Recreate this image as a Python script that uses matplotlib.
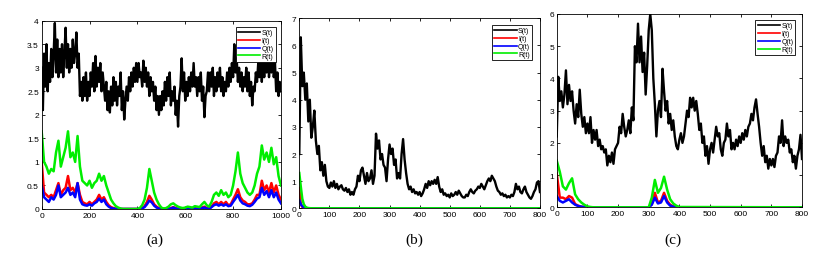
import numpy as np
import matplotlib
matplotlib.use("Agg")
import matplotlib.pyplot as plt

# ---------------- data ----------------
# panel (a): t = 0..1000
t_a_S = list(range(0, 1001, 5))
S_a = [3.0, 2.1, 3.3, 2.6, 3.5, 2.5, 3.1, 2.7, 3.4, 2.8,
       3.3, 3.95, 2.9, 3.6, 2.8, 3.4, 2.9, 3.5, 2.8, 3.3,
       3.85, 3.0, 3.5, 2.9, 3.4, 3.0, 3.6, 3.1, 3.3, 3.75,
       3.0, 3.3, 2.4, 2.7, 2.3, 2.8, 2.4, 2.9, 2.3, 2.7,
       2.4, 2.9, 2.6, 3.1, 2.5, 3.25, 2.6, 3.0, 2.7, 3.1,
       2.5, 2.9, 2.6, 2.3, 2.7, 2.1, 2.5, 2.05, 2.6, 2.2,
       2.8, 2.3, 2.7, 2.2, 2.6, 2.4, 2.9, 2.1, 2.5, 1.9,
       2.3, 2.6, 2.3, 2.8, 2.5, 2.9, 2.6, 3.0, 2.7, 3.1,
       2.7, 3.1, 2.8, 2.9, 2.6, 3.15, 2.7, 3.0, 2.6, 2.9,
       2.4, 2.8, 2.5, 2.7, 2.3, 2.6, 2.1, 2.4, 2.0, 2.4,
       2.1, 2.5, 2.2, 2.7, 2.3, 2.8, 2.4, 2.9, 2.2, 2.5,
       2.3, 2.6, 2.0, 2.3, 1.75, 2.4, 2.6, 3.2, 2.5, 2.9,
       2.3, 2.7, 2.4, 2.8, 2.5, 2.9, 2.6, 3.1, 2.6, 2.8,
       2.4, 2.8, 2.5, 2.9, 2.3, 2.6, 1.95, 2.4, 2.5, 2.9,
       2.5, 2.9, 2.6, 3.0, 2.4, 2.8, 2.5, 2.9, 2.6, 3.0,
       2.5, 2.8, 2.4, 2.7, 2.5, 2.9, 2.6, 3.0, 2.7, 3.1,
       2.8, 3.5, 2.9, 3.2, 2.7, 3.0, 2.6, 2.9, 2.5, 2.8,
       2.6, 3.0, 2.5, 2.9, 2.4, 2.7, 2.2, 2.6, 2.5, 2.9,
       2.7, 3.1, 2.8, 3.3, 2.7, 3.2, 2.8, 3.3, 2.9, 3.4,
       2.8, 3.2, 2.9, 3.5, 2.8, 3.1, 2.5, 2.9, 2.4, 2.7,
       2.5]
t_a = list(range(0, 1001, 10))
R_a = [1.65, 1.0, 0.9, 0.75, 0.85, 0.8, 1.2, 1.45, 0.9, 1.1,
       1.3, 1.65, 1.1, 1.2, 1.0, 1.55, 0.9, 0.6, 0.55, 0.5,
       0.6, 0.45, 0.55, 0.6, 0.75, 0.6, 0.7, 0.5, 0.35, 0.2,
       0.12, 0.06, 0.03, 0.01, 0.0, 0.0, 0.0, 0.0, 0.0, 0.0,
       0.0, 0.02, 0.08, 0.2, 0.45, 0.85, 0.6, 0.35, 0.2, 0.1,
       0.03, 0.01, 0.02, 0.05, 0.1, 0.12, 0.08, 0.05, 0.03, 0.02,
       0.03, 0.05, 0.04, 0.03, 0.06, 0.05, 0.04, 0.1, 0.15, 0.08,
       0.05, 0.15, 0.3, 0.35, 0.28, 0.4, 0.3, 0.35, 0.25, 0.3,
       0.5, 0.8, 1.2, 0.75, 0.55, 0.45, 0.35, 0.3, 0.35, 0.5,
       0.75, 0.9, 1.35, 1.05, 1.2, 1.0, 1.3, 0.95, 1.1, 0.7,
       0.5]
I_a = [1.0, 0.35, 0.3, 0.25, 0.3, 0.25, 0.4, 0.55, 0.3, 0.4,
       0.45, 0.7, 0.4, 0.45, 0.35, 0.55, 0.3, 0.15, 0.12, 0.1,
       0.15, 0.1, 0.15, 0.2, 0.3, 0.2, 0.25, 0.15, 0.08, 0.04,
       0.02, 0.01, 0, 0, 0, 0, 0, 0, 0, 0,
       0, 0, 0.02, 0.06, 0.15, 0.28, 0.2, 0.1, 0.05, 0.02,
       0, 0, 0, 0.01, 0.02, 0.04, 0.02, 0.01, 0, 0,
       0, 0.01, 0.01, 0, 0.02, 0.01, 0.01, 0.03, 0.05, 0.02,
       0.01, 0.05, 0.12, 0.15, 0.1, 0.15, 0.1, 0.15, 0.08, 0.1,
       0.2, 0.3, 0.42, 0.25, 0.18, 0.15, 0.1, 0.1, 0.12, 0.2,
       0.3, 0.3, 0.6, 0.4, 0.5, 0.35, 0.55, 0.35, 0.5, 0.3,
       0.2]
Q_a = [0.5, 0.25, 0.2, 0.15, 0.25, 0.2, 0.3, 0.5, 0.25, 0.3,
       0.35, 0.45, 0.3, 0.35, 0.25, 0.55, 0.2, 0.1, 0.08, 0.07,
       0.1, 0.07, 0.12, 0.15, 0.22, 0.15, 0.2, 0.1, 0.05, 0.02,
       0.01, 0, 0, 0, 0, 0, 0, 0, 0, 0,
       0, 0, 0.01, 0.04, 0.1, 0.18, 0.14, 0.07, 0.03, 0.01,
       0, 0, 0, 0, 0.01, 0.03, 0.01, 0, 0, 0,
       0, 0, 0, 0, 0.01, 0, 0, 0.02, 0.03, 0.01,
       0, 0.04, 0.08, 0.1, 0.07, 0.1, 0.07, 0.1, 0.06, 0.07,
       0.15, 0.22, 0.3, 0.18, 0.12, 0.1, 0.07, 0.06, 0.09, 0.15,
       0.22, 0.25, 0.45, 0.3, 0.38, 0.25, 0.4, 0.25, 0.35, 0.2,
       0.12]

# panel (b): t = 0..800
t_b_S = list(range(0, 801, 5))
S_b = [2.0, 6.3, 4.5, 5.0, 4.0, 4.6, 3.2, 4.0, 2.6, 3.0,
       3.6, 2.5, 2.0, 2.3, 1.4, 1.7, 1.2, 1.6, 1.0, 0.8,
       0.75, 0.95, 0.8, 1.0, 0.75, 0.9, 0.7, 0.8, 0.85, 0.7,
       0.65, 0.75, 0.6, 0.7, 0.5, 0.6, 0.5, 0.7, 0.8, 1.2,
       1.0, 1.4, 1.5, 1.2, 0.9, 1.3, 1.0, 1.1, 1.4, 0.9,
       1.2, 2.75, 2.2, 2.5, 1.8, 2.0, 1.6, 1.5, 1.0, 1.8,
       2.35, 2.0, 2.2, 1.6, 1.8, 1.1, 1.3, 1.1, 2.0, 2.55,
       1.8, 1.3, 0.9, 0.7, 0.8, 0.6, 0.7, 0.55, 0.6, 0.5,
       0.6, 0.45, 0.55, 0.7, 0.9, 0.75, 1.0, 0.85, 1.0, 0.9,
       1.05, 0.9, 1.15, 0.8, 0.6, 0.7, 0.5, 0.55, 0.45, 0.5,
       0.4, 0.55, 0.45, 0.5, 0.6, 0.5, 0.65, 0.55, 0.45, 0.4,
       0.4, 0.5, 0.45, 0.6, 0.7, 0.6, 0.55, 0.65, 0.7, 0.8,
       0.75, 0.9, 0.8, 0.7, 0.85, 1.0, 1.1, 1.0, 1.2, 1.1,
       1.0, 0.8, 0.65, 0.6, 0.5, 0.55, 0.45, 0.5, 0.4, 0.45,
       0.4, 0.5, 0.45, 0.6, 0.9, 0.7, 0.8, 0.6, 0.55, 0.7,
       0.8, 0.6, 0.5, 0.4, 0.35, 0.45, 0.6, 0.7, 0.95, 1.0,
       0.6]
t_b = [0, 5, 10, 15, 20, 25, 30, 40, 800]
R_b = [1.3, 0.8, 0.35, 0.15, 0.06, 0.02, 0.01, 0, 0]
I_b = [0.75, 0.15, 0.05, 0.02, 0.01, 0, 0, 0, 0]
Q_b = [0.3, 0.15, 0.08, 0.04, 0.02, 0.01, 0, 0, 0]

# panel (c): t = 0..800
t_c_S = list(range(0, 801, 5))
S_c = [2.2, 4.05, 3.3, 3.6, 3.1, 3.5, 4.25, 3.2, 3.8, 3.3,
       3.6, 3.0, 2.6, 3.2, 2.8, 3.65, 2.9, 2.5, 2.8, 2.3,
       2.6, 2.3, 2.8, 2.0, 2.4, 2.1, 2.4, 1.9, 2.1, 1.8,
       1.9, 1.7, 1.8, 1.3, 1.6, 1.4, 1.7, 1.35, 1.8, 1.9,
       2.0, 2.5, 2.3, 2.9, 2.5, 2.2, 2.4, 2.7, 2.3, 3.1,
       2.7, 5.0, 4.5, 5.7, 4.5, 5.3, 4.2, 4.8, 3.5, 4.4,
       5.5, 6.0, 5.5, 4.0, 3.2, 2.2, 3.0, 3.3, 2.8, 4.3,
       3.6, 3.0, 3.3, 2.6, 2.9, 2.4, 2.7, 2.2, 1.9, 1.8,
       2.1, 2.3, 2.0, 2.2, 2.6, 3.0, 2.8, 3.4, 3.1, 3.4,
       3.0, 3.3, 2.9, 2.4, 2.6, 2.0, 2.2, 1.6, 1.9, 1.35,
       1.8, 2.0, 1.7, 2.1, 2.5, 2.2, 2.3, 1.8, 1.6, 2.0,
       2.1, 2.6, 2.2, 2.4, 1.8, 2.0, 1.8, 2.1, 1.9, 2.2,
       2.0, 2.3, 2.1, 2.4, 2.2, 2.5, 2.6, 2.9, 2.7, 3.1,
       3.35, 2.9, 2.5, 2.0, 1.6, 1.9, 1.4, 1.6, 1.2, 1.5,
       1.3, 1.5, 1.25, 1.6, 1.7, 2.2, 2.0, 2.7, 1.9, 2.2,
       2.0, 2.1, 1.7, 1.8, 1.4, 1.6, 1.2, 1.6, 1.8, 2.25,
       1.5]
t_c = list(range(0, 401, 10)) + [800]
R_c = [1.45, 1.1, 0.65, 0.55, 0.75, 0.9, 0.4, 0.25, 0.15, 0.08,
       0.03, 0.01, 0, 0, 0, 0, 0, 0, 0, 0,
       0, 0, 0, 0, 0, 0, 0, 0, 0, 0,
       0, 0.3, 0.85, 0.45, 0.6, 0.95, 0.55, 0.25, 0.12, 0.05,
       0.01, 0]
I_c = [1.05, 0.3, 0.3, 0.25, 0.35, 0.3, 0.1, 0.05, 0.02, 0.01,
       0, 0, 0, 0, 0, 0, 0, 0, 0, 0,
       0, 0, 0, 0, 0, 0, 0, 0, 0, 0,
       0, 0.1, 0.45, 0.15, 0.2, 0.45, 0.2, 0.08, 0.03, 0.01,
       0, 0]
Q_c = [0.35, 0.2, 0.15, 0.2, 0.25, 0.15, 0.08, 0.04, 0.02, 0.01,
       0, 0, 0, 0, 0, 0, 0, 0, 0, 0,
       0, 0, 0, 0, 0, 0, 0, 0, 0, 0,
       0, 0.08, 0.3, 0.12, 0.15, 0.35, 0.15, 0.05, 0.02, 0,
       0, 0]

labels = ["S(t)", "I(t)", "Q(t)", "R(t)"]
colors = ["black", "red", "blue", "#00ee00"]
panel_names = ["(a)", "(b)", "(c)"]

# ---------------- figure ----------------
plt.rcParams['font.family'] = ['Liberation Sans', 'DejaVu Sans']
fig = plt.figure(figsize=(8.22, 2.55), dpi=100)

panels = [
    dict(rect=[0.0507, 0.1765, 0.2911, 0.7385], tS=t_a_S, S=S_a, t=t_a, I=I_a, Q=Q_a, R=R_a,
         xlim=(0, 1000), xt=np.arange(0, 1001, 200), ylim=(0, 4), yt=np.arange(0, 4.01, 0.5),
         leg=(0.978, 0.965), lab_x=155),
    dict(rect=[0.3641, 0.1792, 0.2928, 0.7451], tS=t_b_S, S=S_b, t=t_b, I=I_b, Q=Q_b, R=R_b,
         xlim=(0, 800), xt=np.arange(0, 801, 100), ylim=(0, 7), yt=np.arange(0, 8, 1),
         leg=(0.968, 0.963), lab_x=414),
    dict(rect=[0.6773, 0.1831, 0.2984, 0.7581], tS=t_c_S, S=S_c, t=t_c, I=I_c, Q=Q_c, R=R_c,
         xlim=(0, 800), xt=np.arange(0, 801, 100), ylim=(0, 6), yt=np.arange(0, 7, 1),
         leg=(0.973, 0.967), lab_x=673),
]

for p, name in zip(panels, panel_names):
    ax = fig.add_axes(p['rect'])
    ax.plot(p['tS'], p['S'], color=colors[0], lw=1.7, label=labels[0])
    ax.plot(p['t'], p['I'], color=colors[1], lw=1.8, label=labels[1])
    ax.plot(p['t'], p['Q'], color=colors[2], lw=1.8, label=labels[2])
    ax.plot(p['t'], p['R'], color=colors[3], lw=1.8, label=labels[3])
    ax.set_xlim(*p['xlim'])
    ax.set_ylim(*p['ylim'])
    ax.set_xticks(p['xt'])
    ax.set_yticks(p['yt'])
    ax.set_yticklabels([('%g' % v) for v in p['yt']])
    ax.tick_params(direction='in', top=True, right=True, length=2.5, width=0.6,
                   labelsize=6, pad=2)
    for sp in ax.spines.values():
        sp.set_linewidth(0.6)
    leg = ax.legend(loc='upper right', bbox_to_anchor=p['leg'], borderaxespad=0,
                    fontsize=5, frameon=True, fancybox=False, edgecolor='black',
                    framealpha=1, handlelength=3.2, handletextpad=0.2,
                    borderpad=0.3, labelspacing=0.12)
    leg.get_frame().set_linewidth(0.6)
    for h in leg.get_lines():
        h.set_linewidth(1.2)
    fig.text(p['lab_x'] / 822, 1 - 240 / 255, name, ha='center', va='center',
             fontsize=11, family=['Liberation Serif', 'DejaVu Serif'])

fig.savefig("out.png", dpi=100)
